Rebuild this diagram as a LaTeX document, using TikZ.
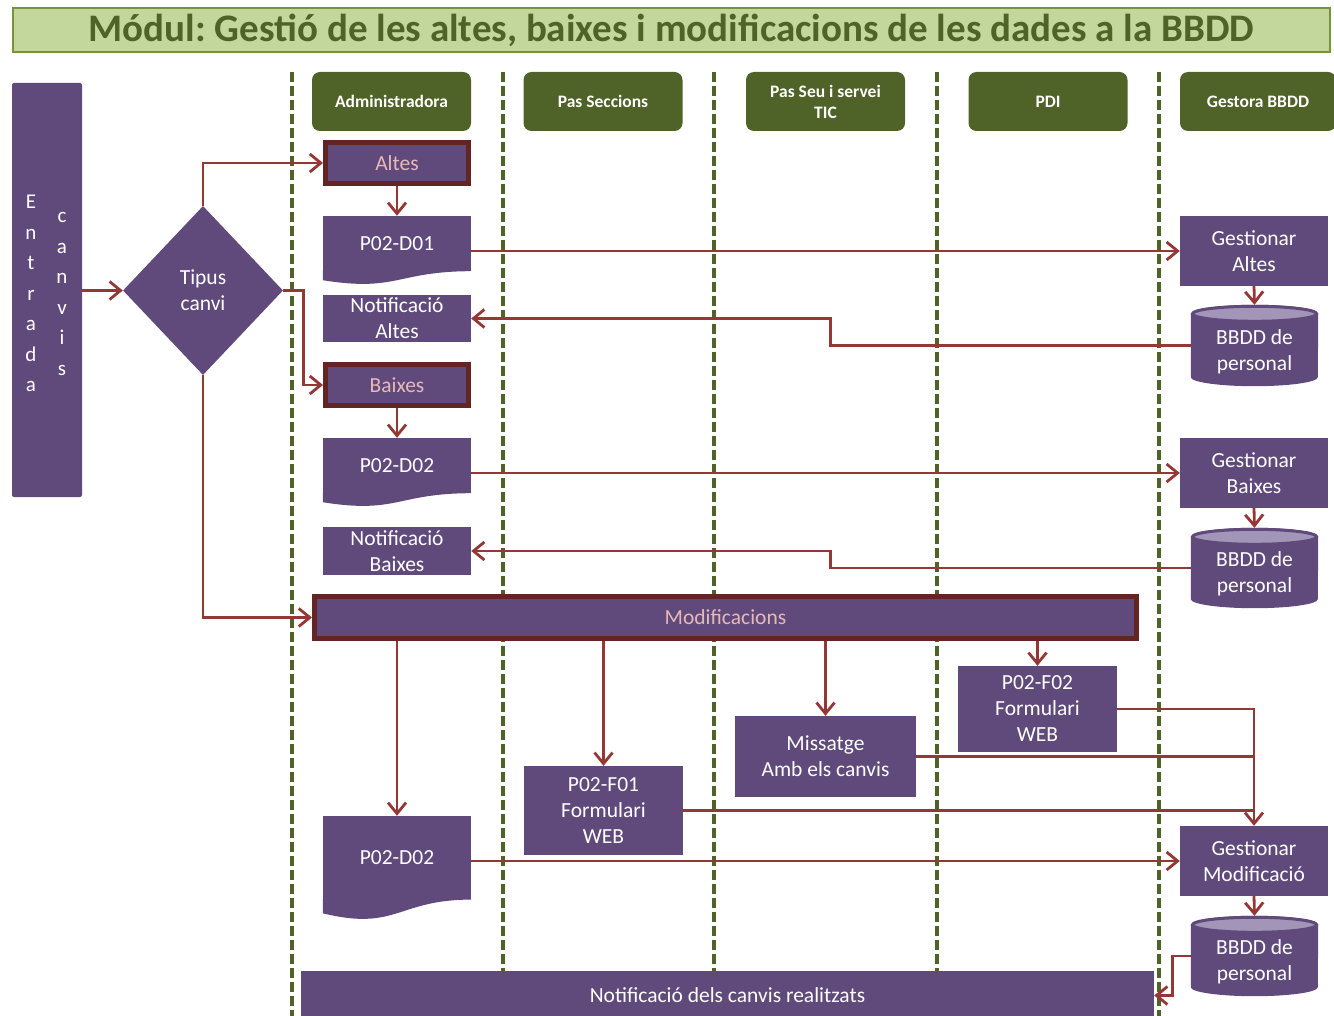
\documentclass[tikz,border=0pt]{standalone}
\usepackage{fontspec}
\setmainfont{Carlito}
\usetikzlibrary{arrows.meta,calc,shapes.geometric}
\definecolor{pur}{HTML}{604A7B}
\definecolor{purlt}{HTML}{A395B8}
\definecolor{grn}{HTML}{4F6228}
\definecolor{grnlt}{HTML}{C3D69B}
\definecolor{grnbd}{HTML}{77933C}
\definecolor{redc}{HTML}{953735}
\definecolor{maroon}{HTML}{632523}
\definecolor{pinkt}{HTML}{E6B9B8}
\frenchspacing
\newcommand\docwave[3]{% node, drop at left, control drop
  \fill[pur] ($(#1.south west)+(0,-0.6)$) -- ($(#1.south east)+(0,-0.6)$) -- (#1.south east)
    .. controls (#1.south) and ($(#1.south)+(0,#3)$) .. ($(#1.south west)+(0,#2)$) -- cycle;}
\newcommand\cylshape[1]{%
  \fill[pur] ($(#1.north west)+(0,9)$) -- ($(#1.south west)+(0,-9)$)
     arc[start angle=180,end angle=360,x radius=63.5pt,y radius=9pt]
     -- ($(#1.north east)+(0,9)$)
     arc[start angle=0,end angle=180,x radius=63.5pt,y radius=9pt] -- cycle;
  \draw[pur,fill=purlt,line width=3pt] ($(#1.north)+(0,9)$) ellipse[x radius=62pt,y radius=7.5pt];}
\begin{document}
\begin{tikzpicture}[x=1pt,y=-1pt,
  txt/.style={font=\fontsize{21.5}{26}\selectfont},
  box/.style={rectangle, fill=pur, text=white, inner sep=0pt, align=center, txt},
  hdr/.style={rectangle, rounded corners=8pt, fill=grn, text=white, inner sep=0pt, align=center,
     minimum width=159pt, minimum height=59pt, font=\bfseries\fontsize{17.5}{21}\selectfont},
  thickbox/.style={rectangle, fill=pur, draw=maroon, line width=5pt, text=pinkt, inner sep=0pt, align=center, txt},
  lane/.style={draw=grn, line width=4.5pt, dash pattern=on 10pt off 4pt},
  conn/.style={draw=redc, line width=2.8pt, -{Straight Barb[length=11pt,width=18pt]}},
  link/.style={draw=redc, line width=2.8pt},
  dbtext/.style={text=white, align=center, inner sep=0pt, txt}
]
\clip (0,0) rectangle (1334,1016);
\useasboundingbox (0,0) rectangle (1334,1016);

% title
\node[rectangle, fill=grnlt, draw=grnbd, line width=1.5pt, minimum width=1317pt, minimum height=44pt,
  inner sep=0pt, text=grn, font=\bfseries\fontsize{39}{42}\selectfont] (title) at (671.5,30)
  {Módul: Gestió de les altes, baixes i modificacions de les dades a la BBDD};

% lanes
\foreach \lx in {292,503,714,937,1159} \draw[lane] (\lx,72) -- (\lx,1016);

% headers
\node[hdr] (hadm) at (391.5,101.5) {Administradora};
\node[hdr] (hpas) at (603,101.5) {Pas Seccions};
\node[hdr] (hseu) at (825.5,101.5) {Pas Seu i servei\\TIC};
\node[hdr] (hpdi) at (1048,101.5) {PDI};
\node[hdr, minimum width=156pt] (hges) at (1258,101.5) {Gestora BBDD};

% entrada
\node[rectangle, fill=pur, rounded corners=2pt, minimum width=70pt, minimum height=414pt, inner sep=0pt] (entrada) at (47,290) {};
\node[text=white, align=center, inner sep=0pt, font=\fontsize{21}{30.5}\selectfont] (entA) at (31,293.5) {E\\n\\t\\r\\a\\d\\a};
\node[text=white, align=center, inner sep=0pt, font=\fontsize{21}{30.5}\selectfont] (entB) at (62,294) {c\\a\\n\\v\\i\\s};

% decision
\node[diamond, fill=pur, text=white, inner sep=0pt, minimum width=160pt, minimum height=169pt, align=center, txt] (tipus) at (203,290.5) {Tipus\\canvi};

% Administradora column
\node[thickbox, minimum width=143pt, minimum height=41pt] (altes) at (397,163) {Altes};
\node[box, minimum width=148pt, minimum height=55pt] (d01) at (397,243.5) {P02-D01};
\node[box, minimum width=148pt, minimum height=47pt] (na) at (397,318.5) {Notificació\\Altes};
\node[thickbox, minimum width=143pt, minimum height=41pt] (baixes) at (397,385) {Baixes};
\node[box, minimum width=148pt, minimum height=55pt] (d02a) at (397,465.5) {P02-D02};
\node[box, minimum width=148pt, minimum height=48pt] (nb) at (397,551) {Notificació\\Baixes};
\node[thickbox, minimum width=822pt, minimum height=42pt] (modif) at (725.5,617.5) {Modificacions};
\node[box, minimum width=148pt, minimum height=83.4pt] (d02b) at (397,857.7) {P02-D02};
\docwave{d01}{9}{21}
\docwave{d02a}{9}{21}
\docwave{d02b}{13.7}{31.8}

\node[box, minimum width=159pt, minimum height=89pt] (f01) at (603.5,810.5) {P02-F01\\Formulari\\WEB};
\node[box, minimum width=181pt, minimum height=81pt] (mis) at (825.5,756.5) {Missatge\\Amb els canvis};
\node[box, minimum width=159pt, minimum height=86pt] (f02) at (1037.5,709) {P02-F02\\Formulari\\WEB};

% Gestora column
\node[box, minimum width=148pt, minimum height=70pt] (ga) at (1254,251) {Gestionar\\Altes};
\node[minimum width=127pt, minimum height=81pt, inner sep=0pt] (db1) at (1254.5,345.5) {};
\cylshape{db1}
\node[dbtext] (db1t) at ([yshift=-6pt]db1.center) {BBDD de\\personal};
\node[box, minimum width=148pt, minimum height=70pt] (gb) at (1254,473) {Gestionar\\Baixes};
\node[minimum width=127pt, minimum height=80pt, inner sep=0pt] (db2) at (1254.5,568) {};
\cylshape{db2}
\node[dbtext] (db2t) at ([yshift=-6pt]db2.center) {BBDD de\\personal};
\node[box, minimum width=148pt, minimum height=70pt] (gm) at (1254,861) {Gestionar\\Modificació};
\node[minimum width=127pt, minimum height=80pt, inner sep=0pt] (db3) at (1254.5,956) {};
\cylshape{db3}
\node[dbtext] (db3t) at ([yshift=-6pt]db3.center) {BBDD de\\personal};

\node[box, minimum width=853pt, minimum height=49pt] (notif) at (727.5,995.5) {Notificació dels canvis realitzats};

% connectors
\draw[conn] (entrada.east |- tipus.west) -- (tipus.west);
\draw[conn] (tipus.north) |- (altes.west);
\draw[conn] (tipus.east) -- ++(20,0) |- (baixes.west);
\draw[conn] (tipus.south) |- (modif.west);
\draw[conn] (altes.south) -- (d01.north);
\draw[conn] (baixes.south) -- (d02a.north);
\draw[conn] (ga.west -| d01.east) -- (ga.west);
\draw[conn] (ga.south) -- (db1.north);
\draw[conn] (db1.west) -- ++(-360,0) |- (na.east);
\draw[conn] (gb.west -| d02a.east) -- (gb.west);
\draw[conn] (gb.south) -- (db2.north);
\draw[conn] (db2.west) -- ++(-360,0) |- (nb.east);
\draw[conn] (modif.south -| d02b.north) -- (d02b.north);
\draw[conn] (modif.south -| f01.north) -- (f01.north);
\draw[conn] (modif.south -| mis.north) -- (mis.north);
\draw[conn] (modif.south -| f02.north) -- (f02.north);
\draw[conn] (f02.east) -| (gm.north);
\draw[link] (mis.east) -- (mis.east -| gm.north);
\draw[link] (f01.east) -- (f01.east -| gm.north);
\draw[conn] (gm.west -| d02b.east) -- (gm.west);
\draw[conn] (gm.south) -- (db3.north);
\draw[conn] (db3.west) -- ++(-18,0) |- (notif.east);
\end{tikzpicture}
\end{document}
